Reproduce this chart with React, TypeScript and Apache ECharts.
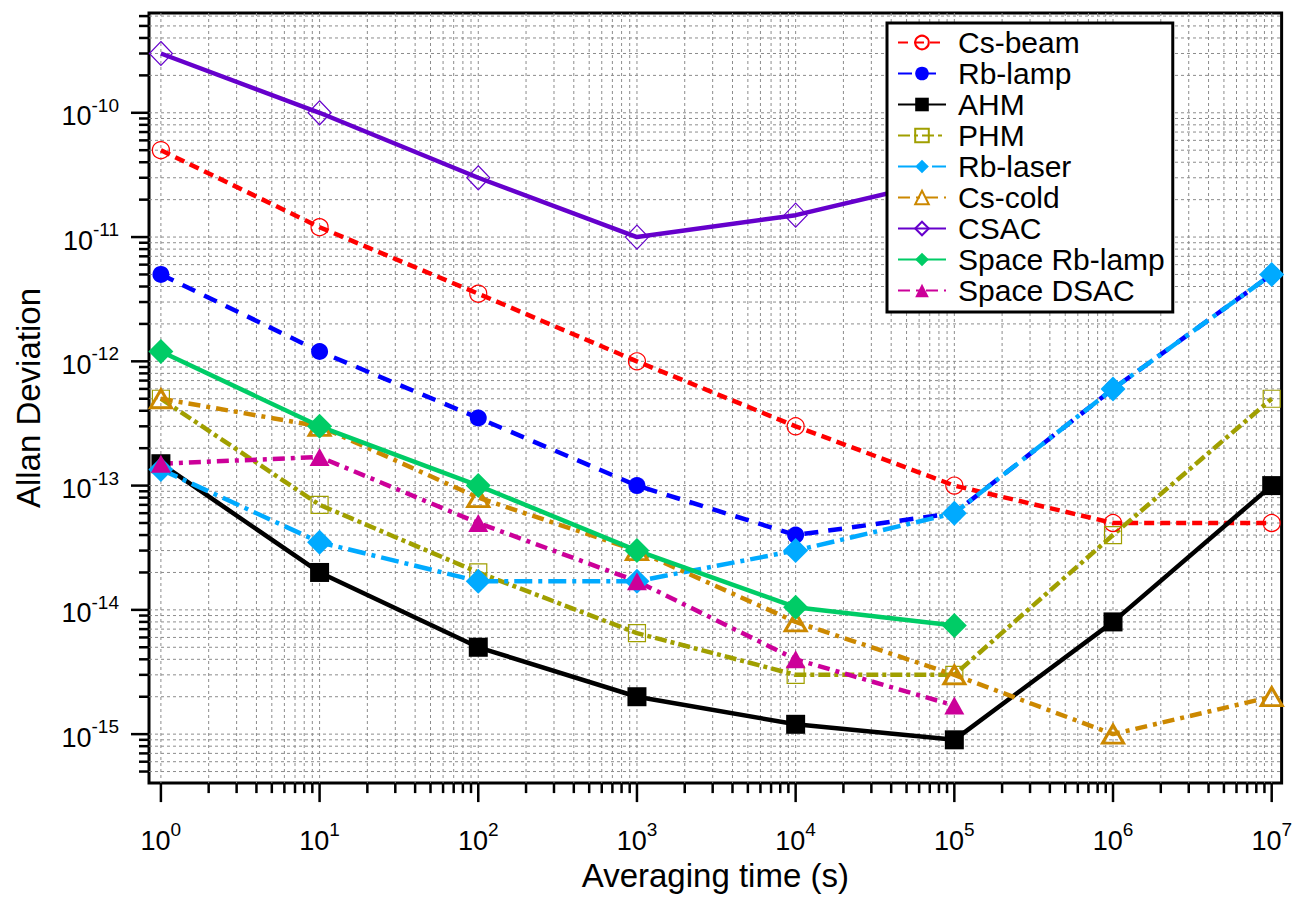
import React, { useEffect, useRef } from "react";
import * as echarts from "echarts";

// ---- data ----
const tau = [1, 10, 100, 1e3, 1e4, 1e5, 1e6, 1e7];
const csBeam = [5e-11, 1.2e-11, 3.5e-12, 1e-12, 3e-13, 1e-13, 5e-14, 5e-14];
const rbLamp = [5e-12, 1.2e-12, 3.5e-13, 1e-13, 4e-14, 6e-14, 6e-13, 5e-12];
const ahm = [1.5e-13, 2e-14, 5e-15, 2e-15, 1.2e-15, 9e-16, 8e-15, 1e-13];
const phm = [5e-13, 7e-14, 2e-14, 6.5e-15, 3e-15, 3e-15, 4e-14, 5e-13];
const rbLaser = [1.35e-13, 3.5e-14, 1.7e-14, 1.7e-14, 3e-14, 6e-14, 6e-13, 5e-12];
const csCold = [5e-13, 3e-13, 8e-14, 3e-14, 8e-15, 3e-15, 1e-15, 2e-15];
const csac = [3e-10, 1e-10, 3e-11, 1e-11, 1.5e-11, 3e-11, null, null];
const spaceRbLamp = [1.2e-12, 3e-13, 1e-13, 3e-14, 1.05e-14, 7.5e-15, null, null];
const spaceDsac = [1.5e-13, 1.7e-13, 5e-14, 1.7e-14, 4e-15, 1.7e-15, null, null];

const legendNames = [
  "Cs-beam",
  "Rb-lamp",
  "AHM",
  "PHM",
  "Rb-laser",
  "Cs-cold",
  "CSAC",
  "Space Rb-lamp",
  "Space DSAC",
];

// axis ranges (log10 of the plot edges)
const xLogMin = -0.075;
const xLogMax = 7.0625;
const yLogMin = -15.394;
const yLogMax = -9.197;
const xDecades = [0, 1, 2, 3, 4, 5, 6, 7];
const yDecades = [-16, -15, -14, -13, -12, -11, -10];
const mantissas = [1, 2, 3, 4, 5, 6, 7, 8, 9];

const FONT = "Liberation Sans, Arial, Helvetica, sans-serif";

function pairs(vals: (number | null)[]) {
  const out: number[][] = [];
  tau.forEach((t, i) => {
    const v = vals[i];
    if (v != null) out.push([t, v]);
  });
  return out;
}

export default function App() {
  const ref = useRef<HTMLDivElement>(null);

  useEffect(() => {
    if (!ref.current) return;
    const chart = echarts.init(ref.current, undefined, { renderer: "svg" });

    // grid/tick helper rows: [x, y, kind] kind 0=x minor,1=x major,2=y minor,3=y major
    const gridRows: number[][] = [];
    xDecades.forEach((d) =>
      mantissas.forEach((m) => {
        const v = m * Math.pow(10, d);
        const lv = Math.log10(v);
        if (lv > xLogMin + 1e-6 && lv < xLogMax - 1e-6)
          gridRows.push([v, 1e-12, m === 1 ? 1 : 0]);
      })
    );
    yDecades.forEach((d) =>
      mantissas.forEach((m) => {
        const v = m * Math.pow(10, d);
        const lv = Math.log10(v);
        if (lv > yLogMin + 1e-6 && lv < yLogMax - 1e-6)
          gridRows.push([10, v, m === 1 ? 3 : 2]);
      })
    );

    const labelFormatter = (v: number) => {
      const e = Math.log10(v);
      const r = Math.round(e);
      if (Math.abs(e - r) > 1e-6) return "";
      return `{b|10}{s|${r}}`;
    };
    const rich = {
      b: {
        fontSize: 27,
        fontFamily: FONT,
        color: "#000",
        verticalAlign: "bottom",
        lineHeight: 34,
      },
      s: {
        fontSize: 19,
        fontFamily: FONT,
        color: "#000",
        verticalAlign: "top",
        lineHeight: 19,
      },
    };

    const mk = (
      name: string,
      vals: (number | null)[],
      color: string,
      dash: any,
      symbol: string,
      size: any,
      hollow: boolean,
      borderW: number
    ) => ({
      type: "line",
      name,
      data: pairs(vals),
      symbol,
      symbolSize: size,
      showSymbol: true,
      z: 3,
      lineStyle: { color, width: 4.5, type: dash, cap: "butt" },
      itemStyle: hollow
        ? { color: "transparent", borderColor: color, borderWidth: borderW }
        : { color, borderWidth: 0 },
      emphasis: { disabled: true },
    });

    const option: any = {
      animation: false,
      backgroundColor: "#fff",
      grid: {
        left: 149,
        top: 13,
        right: 4,
        bottom: 97,
        show: true,
        borderColor: "#000",
        borderWidth: 3,
        backgroundColor: "transparent",
      },
      xAxis: {
        type: "log",
        min: Math.pow(10, xLogMin),
        max: Math.pow(10, xLogMax),
        splitNumber: 7,
        name: "Averaging time (s)",
        nameLocation: "middle",
        nameGap: 59,
        nameTextStyle: { fontSize: 33, fontFamily: FONT, color: "#000" },
        axisLine: { show: false },
        axisTick: { show: false },
        splitLine: { show: false },
        minorTick: { show: false },
        axisLabel: {
          formatter: labelFormatter,
          rich,
          margin: 37,
          showMinLabel: true,
          showMaxLabel: true,
          hideOverlap: false,
        },
      },
      yAxis: {
        type: "log",
        min: Math.pow(10, yLogMin),
        max: Math.pow(10, yLogMax),
        splitNumber: 6,
        name: "Allan Deviation",
        nameLocation: "middle",
        nameGap: 104,
        nameTextStyle: { fontSize: 33, fontFamily: FONT, color: "#000" },
        axisLine: { show: false },
        axisTick: { show: false },
        splitLine: { show: false },
        minorTick: { show: false },
        axisLabel: {
          formatter: labelFormatter,
          rich,
          margin: 30,
          hideOverlap: false,
        },
      },
      legend: {
        data: legendNames,
        orient: "vertical",
        left: 887,
        top: 23,
        padding: [4, 8, 6, 10],
        itemWidth: 48,
        itemHeight: 17,
        itemGap: 0,
        backgroundColor: "#fff",
        borderColor: "#000",
        borderWidth: 3,
        borderRadius: 0,
        textStyle: {
          fontSize: 30,
          fontFamily: FONT,
          color: "#000",
          lineHeight: 31,
          padding: [0, 0, 0, 7],
        },
        selectedMode: false,
      },
      series: [
        {
          type: "custom",
          coordinateSystem: "cartesian2d",
          silent: true,
          clip: false,
          z: 1,
          data: gridRows,
          renderItem: (params: any, api: any) => {
            const cs = params.coordSys;
            const kind = api.value(2);
            const gridStyle = {
              stroke: "#8c8c8c",
              lineWidth: 1,
              lineDash: [3, 3],
              fill: null,
            };
            const tickStyle = { stroke: "#000", lineWidth: 2.5, fill: null };
            if (kind === 0 || kind === 1) {
              const px = api.coord([api.value(0), 1e-12])[0];
              const len = kind === 1 ? 19 : 10;
              const bottom = cs.y + cs.height;
              return {
                type: "group",
                children: [
                  {
                    type: "line",
                    shape: { x1: px, y1: cs.y, x2: px, y2: bottom },
                    style: gridStyle,
                  },
                  {
                    type: "line",
                    shape: { x1: px, y1: bottom, x2: px, y2: bottom + len },
                    style: tickStyle,
                  },
                ],
              };
            }
            const py = api.coord([10, api.value(1)])[1];
            const len = kind === 3 ? 18 : 10;
            return {
              type: "group",
              children: [
                {
                  type: "line",
                  shape: { x1: cs.x, y1: py, x2: cs.x + cs.width, y2: py },
                  style: gridStyle,
                },
                {
                  type: "line",
                  shape: { x1: cs.x - len, y1: py, x2: cs.x, y2: py },
                  style: tickStyle,
                },
              ],
            };
          },
        },
        mk("Cs-beam", csBeam, "#ff0000", [10, 6], "circle", 17, true, 1.2),
        mk("Rb-lamp", rbLamp, "#0000ff", [14, 10], "circle", 17, false, 0),
        mk("AHM", ahm, "#000000", "solid", "rect", 19, false, 0),
        mk("PHM", phm, "#a09f00", [12, 4, 4, 4], "rect", 17, true, 1.2),
        mk("Rb-laser", rbLaser, "#00aaff", [18, 6, 4, 6], "diamond", [25, 25], false, 0),
        mk("Cs-cold", csCold, "#cc8800", [12, 6, 4, 6], "triangle", [21, 18], true, 3),
        mk("CSAC", csac, "#6600cc", "solid", "diamond", [23, 24], true, 1.2),
        mk("Space Rb-lamp", spaceRbLamp, "#00cc66", "solid", "diamond", [25, 25], false, 0),
        mk("Space DSAC", spaceDsac, "#cc0099", [12, 6, 4, 6], "triangle", [20, 18], false, 0),
      ],
    };

    chart.setOption(option);
    return () => chart.dispose();
  }, []);

  return (
    <div
      ref={ref}
      style={{ position: "absolute", left: 0, top: 0, width: 1295, height: 897 }}
    />
  );
}
